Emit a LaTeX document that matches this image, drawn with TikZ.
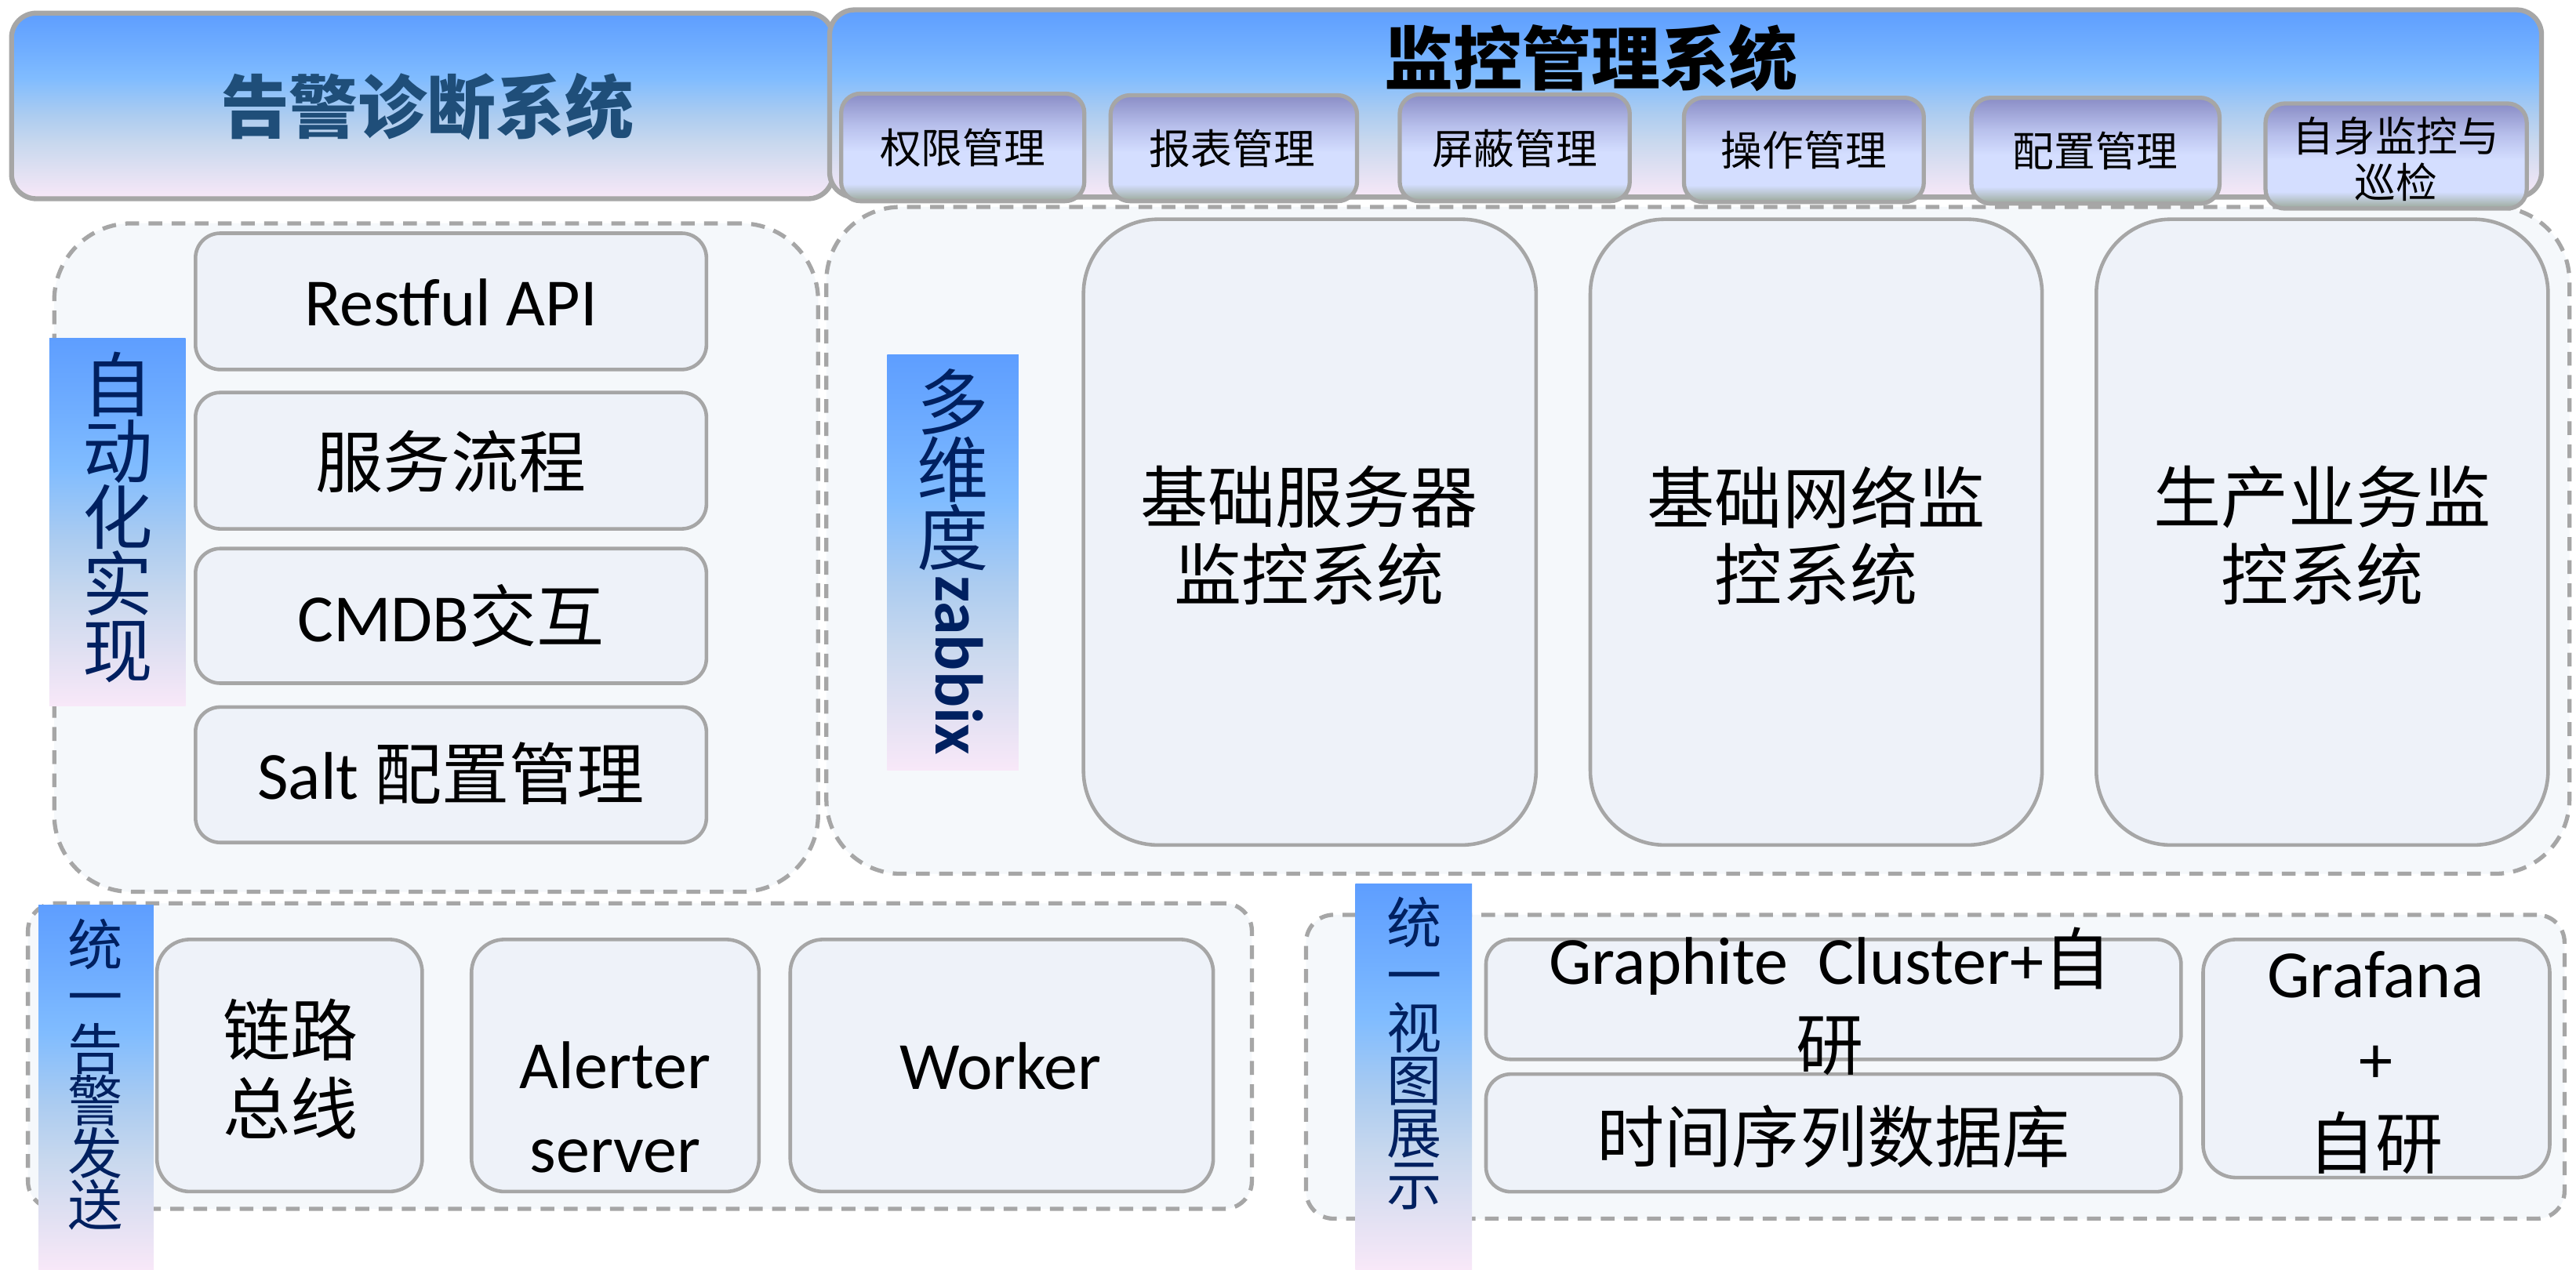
\documentclass[tikz,border=0pt]{standalone}
\usepackage{fontspec}
\setmainfont{Noto Sans CJK SC}
\newfontfamily\lat{Carlito}
\usetikzlibrary{fit}

\definecolor{bordergray}{HTML}{A6A6A6}
\definecolor{contfill}{HTML}{F5F8FB}
\definecolor{boxfill}{HTML}{EEF2F9}
\definecolor{navy}{HTML}{002060}
\definecolor{titleblue}{HTML}{1F4E79}

\definecolor{hb0}{HTML}{F8E8F8}
\definecolor{hb1}{HTML}{E0E0F2}
\definecolor{hb2}{HTML}{C8D8EE}
\definecolor{hb3}{HTML}{ACCCF0}
\definecolor{hb4}{HTML}{80BCFF}
\definecolor{hb5}{HTML}{70AEFF}
\definecolor{hb6}{HTML}{5E9EFF}
\pgfdeclareverticalshading{hdrshade}{100bp}{color(0bp)=(hb0); color(25bp)=(hb0); color(32.5bp)=(hb1); color(40bp)=(hb2); color(47.5bp)=(hb3); color(57.5bp)=(hb4); color(65bp)=(hb5); color(75bp)=(hb6); color(100bp)=(hb6)}

\definecolor{bt0}{HTML}{9AA898}
\definecolor{bt1}{HTML}{B8C4CC}
\definecolor{bt2}{HTML}{D4DEFF}
\definecolor{bt3}{HTML}{B8C0EC}
\definecolor{bt4}{HTML}{8A8DC6}
\pgfdeclareverticalshading{btnshade}{100bp}{color(0bp)=(bt0); color(25bp)=(bt0); color(29bp)=(bt1); color(33bp)=(bt2); color(48bp)=(bt2); color(60bp)=(bt3); color(75bp)=(bt4); color(100bp)=(bt4)}

\tikzset{
  cont/.style={draw=bordergray, line width=1.5pt, dash pattern=on 5pt off 3.4pt, fill=contfill, rounded corners=#1, inner sep=0pt},
  hdr/.style={draw=bordergray, line width=1.8pt, shading=hdrshade, rounded corners=9pt, inner sep=0pt},
  btn/.style={draw=bordergray, line width=1.5pt, shading=btnshade, rounded corners=7pt, inner sep=0pt},
  sbox/.style={draw=bordergray, line width=1.3pt, fill=boxfill, rounded corners=#1, inner sep=0pt},
  lblrect/.style={shading=hdrshade, inner sep=0pt},
  txt/.style={align=center, inner sep=0pt, outer sep=0pt, text=black},
  body/.style={txt, font=\fontsize{24.5}{28}\selectfont},
  btntxt/.style={txt, font=\fontsize{15}{16.7}\selectfont},
}
\newcommand\mkbox[4]{\node[#1, fit={#3 #4}] (#2) {};}

\begin{document}
\begin{tikzpicture}[x=0.5961pt, y=-0.5961pt]
\useasboundingbox (0,0) rectangle (1568,773);
\fill[white] (0,0) rectangle (1568,773);

% dashed containers
\mkbox{cont=28pt}{contA}{(33,136)}{(498,543)}
\mkbox{cont=27pt}{contB}{(503,126)}{(1564,532)}
\mkbox{cont=10pt}{contC}{(17,550)}{(762,736)}
\mkbox{cont=10pt}{contD}{(795,557)}{(1561,742)}

% header boxes
\mkbox{hdr}{hdrL}{(7,8)}{(507,121)}
\mkbox{hdr}{hdrR}{(505,6)}{(1547,120)}
\node[txt, text=titleblue, font=\bfseries\fontsize{25}{30}\selectfont] (tHdrL) at (260,65) {告警诊断系统};
\node[txt, font=\bfseries\fontsize{25}{30}\selectfont] (tHdrR) at (968.6,35.5) {监控管理系统};

% buttons
\mkbox{btn}{b1}{(512,57)}{(660,122.5)}
\mkbox{btn}{b2}{(676,58)}{(826,122.5)}
\mkbox{btn}{b3}{(852,57.5)}{(992,122.5)}
\mkbox{btn}{b4}{(1025,59.5)}{(1171,123)}
\mkbox{btn}{b5}{(1200,59.5)}{(1351,124)}
\mkbox{btn}{b6}{(1379,63)}{(1538,127)}
\node[btntxt] (tb1) at (586,90) {权限管理};
\node[btntxt] (tb2) at (750,90.5) {报表管理};
\node[btntxt] (tb3) at (922,90.5) {屏蔽管理};
\node[btntxt] (tb4) at (1098,91.5) {操作管理};
\node[btntxt] (tb5) at (1275.5,92) {配置管理};
\node[btntxt] (tb6) at (1458.5,97) {自身监控与\\巡检};

% row 2 left
\mkbox{lblrect}{lblA}{(30,206)}{(113,430)}
\node[txt, text=navy, font=\fontsize{25.5}{24.1}\selectfont] (tLblA) at (71.7,315) {自\\动\\化\\实\\现};
\mkbox{sbox=9pt}{r1}{(119,142)}{(430,225)}
\mkbox{sbox=9pt}{r2}{(119,239)}{(430,322)}
\mkbox{sbox=9pt}{r3}{(119,334)}{(430,416)}
\mkbox{sbox=9pt}{r4}{(119,430.5)}{(430,513)}
\node[body] (tr1) at (274.5,184) {\lat Restful API};
\node[body] (tr2) at (274.5,281) {服务流程};
\node[body] (tr3) at (274.5,375) {{\lat CMDB}交互};
\node[body] (tr4) at (274.5,471) {{\lat Salt }配置管理};

% row 2 right
\mkbox{lblrect}{lblB}{(540,216)}{(620,469)}
\node[txt, text=navy, font=\fontsize{26}{24.7}\selectfont] (tLblB) at (580,286) {多\\维\\度};
\node[txt, text=navy, rotate=-90, font=\lat\bfseries\fontsize{24.5}{28}\selectfont] (tLblBz) at (584,405) {zabbix};
\mkbox{sbox=27pt}{m1}{(659.5,133.5)}{(935,514.5)}
\mkbox{sbox=27pt}{m2}{(968,133.5)}{(1243,514.5)}
\mkbox{sbox=27pt}{m3}{(1276,133.5)}{(1551,514.5)}
\node[body] (tm1) at (797,326) {基础服务器\\监控系统};
\node[body] (tm2) at (1105.5,326) {基础网络监\\控系统};
\node[body] (tm3) at (1413.5,326) {生产业务监\\控系统};

% row 3 left
\mkbox{lblrect}{lblC}{(23.5,551)}{(93.5,773)}
\node[txt, text=navy, font=\fontsize{20}{18.9}\selectfont] (tLblC) at (58,654.3) {统\\一\\告\\警\\发\\送};
\mkbox{sbox=12pt}{l1}{(95.5,572)}{(257,725.5)}
\mkbox{sbox=12pt}{l2}{(287,572)}{(462,725.5)}
\mkbox{sbox=12pt}{l3}{(481,572)}{(738.5,725.5)}
\node[body, font=\fontsize{24.5}{28.4}\selectfont] (tl1) at (177,651) {链路\\总线};
\node[body, font=\lat\fontsize{24.5}{30.4}\selectfont] (tl2) at (374.5,674) {Alerter\\server};
\node[body, font=\lat\fontsize{24.5}{28}\selectfont] (tl3) at (609,649.3) {Worker};

% row 3 right
\mkbox{lblrect}{lblD}{(825,538)}{(896,773)}
\node[txt, text=navy, font=\fontsize{20}{19}\selectfont] (tLblD) at (861,641.5) {统\\一\\视\\图\\展\\示};
\mkbox{sbox=9pt}{g1}{(904.5,572)}{(1327.6,645)}
\mkbox{sbox=9pt}{g2}{(904.5,654)}{(1327.6,725.6)}
\mkbox{sbox=12pt}{g3}{(1341,572)}{(1552,717)}
\node[body, font=\fontsize{24.5}{31}\selectfont] (tg1) at (1114,609.5) {{\lat Graphite\ \ Cluster+}自\\研};
\node[body] (tg2) at (1116,692) {时间序列数据库};
\node[body, font=\fontsize{24.5}{31}\selectfont] (tg3) at (1446,647) {{\lat Grafana}\\{\lat +}\\自研};
\end{tikzpicture}
\end{document}
